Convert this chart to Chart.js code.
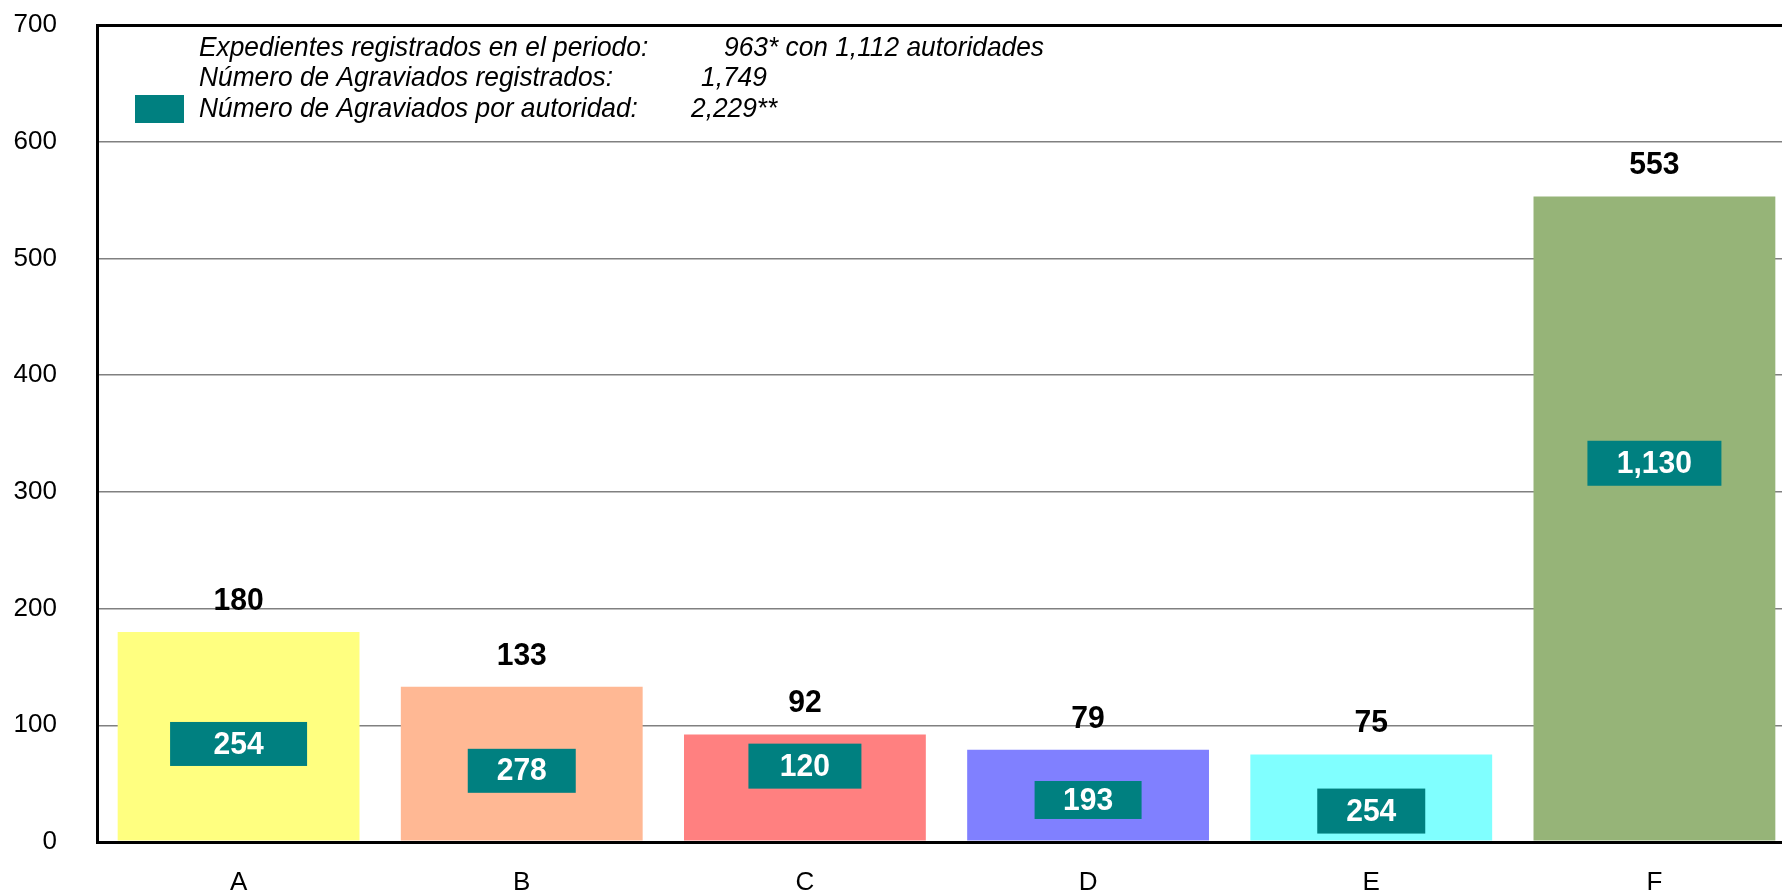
<!DOCTYPE html>
<html>
<head>
<meta charset="utf-8">
<script src="https://cdn.jsdelivr.net/npm/chart.js@4/dist/chart.umd.min.js"></script>
<style>
  html, body { margin: 0; padding: 0; background: #fff; overflow: hidden; }
  #wrap { position: relative; width: 1800px; height: 895px; }
</style>
</head>
<body>
<div id="wrap"><canvas id="c"></canvas></div>
<script>
// ---- data ----
const categories = ['A', 'B', 'C', 'D', 'E', 'F'];
const expedientes = [180, 133, 92, 79, 75, 553];
const agraviados = [254, 278, 120, 193, 254, 1130];
const yTickValues = [0, 100, 200, 300, 400, 500, 600, 700];
const legendLabels = [
  'Expedientes registrados en el periodo:',
  'Número de Agraviados registrados:',
  'Número de Agraviados por autoridad:'
];
const legendValues = ['963* con 1,112 autoridades', '1,749', '2,229**'];

// ---- style ----
const barColors = ['#FFFF80', '#FFB894', '#FF8080', '#8080FF', '#80FFFF', '#96B478'];
const TEAL = '#008080';
const FONT = '"Liberation Sans", Arial, Helvetica, sans-serif';
// label-box placement (axis units for centre) and box sizes in px
const boxLevel = [84, 61, 65, 36, 26.5, 324.5];
const boxWidth = [137, 108, 113, 107, 108, 134];
const boxHeight = [44, 44, 45, 38, 45, 45];

const fmt = v => v.toLocaleString('en-US');

function drawText(ctx, text, x, y, font, align, sx) {
  ctx.save();
  ctx.translate(x, y);
  ctx.scale(sx, 1);
  ctx.font = font;
  ctx.textAlign = align;
  ctx.textBaseline = 'middle';
  ctx.fillText(text, 0, 0);
  ctx.restore();
}

const labelPlugin = {
  id: 'labels',
  afterDatasetsDraw(chart) {
    const ctx = chart.ctx;
    const meta = chart.getDatasetMeta(0);
    const ys = chart.scales.y;
    ctx.save();
    meta.data.forEach((bar, i) => {
      ctx.fillStyle = '#000';
      drawText(ctx, fmt(expedientes[i]), bar.x, bar.y - 31, 'bold 32px ' + FONT, 'center', 0.94);
      const cy = ys.getPixelForValue(boxLevel[i]);
      const w = boxWidth[i], h = boxHeight[i];
      ctx.fillStyle = TEAL;
      ctx.fillRect(bar.x - w / 2, cy - h / 2, w, h);
      ctx.fillStyle = '#fff';
      drawText(ctx, fmt(agraviados[i]), bar.x, cy + 1, 'bold 31px ' + FONT, 'center', 0.97);
    });
    ctx.restore();
  },
  afterDraw(chart) {
    const ctx = chart.ctx;
    ctx.save();
    ctx.fillStyle = TEAL;
    ctx.fillRect(135, 95, 49, 28);
    ctx.fillStyle = '#000';
    const ly = [48, 78, 109];
    const vx = [724, 701, 691];
    legendLabels.forEach((t, i) => {
      drawText(ctx, t, 199, ly[i], 'italic 28px ' + FONT, 'left', 0.94);
      drawText(ctx, legendValues[i], vx[i], ly[i], 'italic 28px ' + FONT, 'left', 0.94);
    });
    ctx.restore();
  }
};

new Chart(document.getElementById('c'), {
  type: 'bar',
  data: {
    labels: categories,
    datasets: [{
      label: 'Expedientes',
      data: expedientes,
      backgroundColor: barColors,
      borderWidth: 0,
      barPercentage: 0.854,
      categoryPercentage: 1.0
    }]
  },
  options: {
    responsive: true,
    maintainAspectRatio: false,
    animation: false,
    events: [],
    layout: { padding: { top: 25, right: 4, left: 0, bottom: 0 } },
    plugins: {
      legend: { display: false },
      tooltip: { enabled: false },
      title: { display: false }
    },
    scales: {
      x: {
        grid: { display: false, drawTicks: false },
        border: { color: '#000', width: 3 },
        ticks: { color: '#000', font: { family: FONT, size: 26 }, padding: 25 },
        afterFit(s) { s.height = 53; s.paddingLeft = 0; s.paddingRight = 0; }
      },
      y: {
        min: 0, max: 700,
        afterBuildTicks(s) { s.ticks = yTickValues.map(v => ({ value: v })); },
        grid: {
          drawTicks: false,
          color: c => (c.tick && (c.tick.value === 700 || c.tick.value === 0)) ? '#000' : '#808080',
          lineWidth: c => (c.tick && (c.tick.value === 700 || c.tick.value === 0)) ? 3 : 1.5
        },
        border: { color: '#000', width: 3 },
        ticks: { color: '#000', font: { family: FONT, size: 26 }, padding: 40 },
        afterFit(s) { s.width = 97; s.paddingTop = 0; s.paddingBottom = 0; }
      }
    }
  },
  plugins: [labelPlugin]
});
</script>
</body>
</html>
